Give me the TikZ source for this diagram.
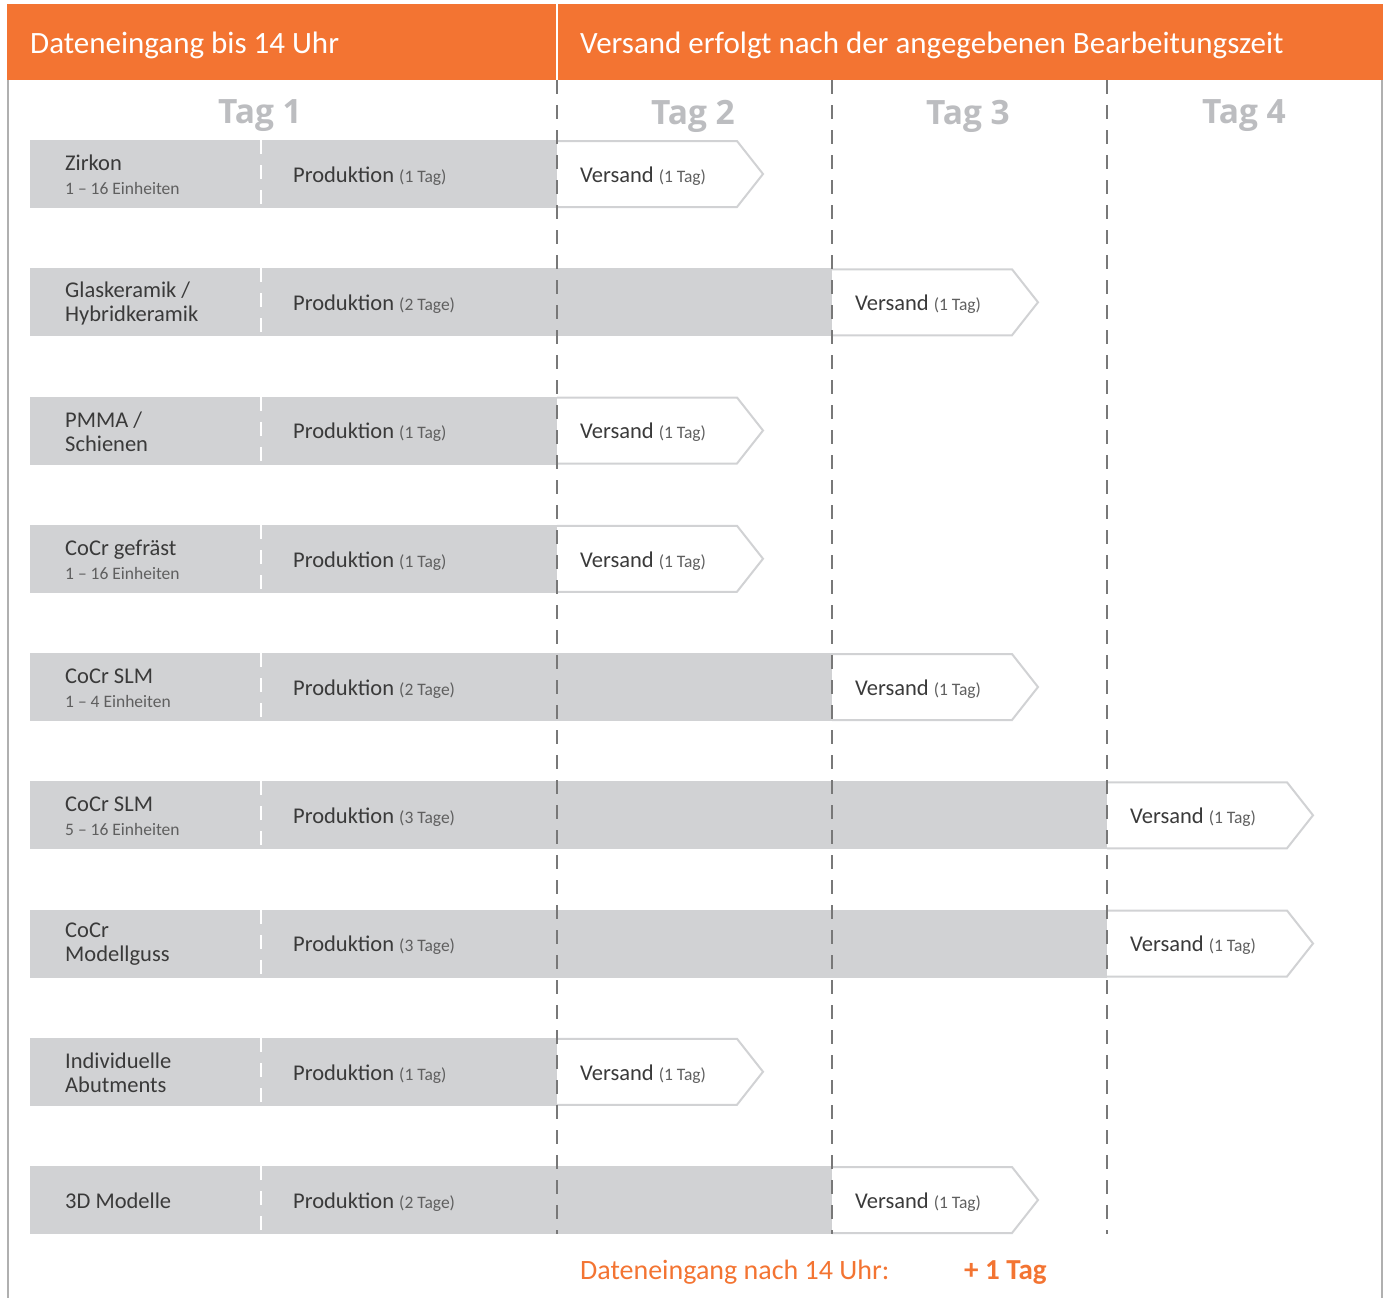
\documentclass[tikz,border=0pt]{standalone}
\usepackage{fontspec}
\setmainfont{Carlito}
\newfontfamily\tagfont{Open Sans}
\usetikzlibrary{positioning}

\definecolor{headorange}{RGB}{243,116,50}
\definecolor{bargray}{RGB}{209,210,212}
\definecolor{daygray}{RGB}{188,189,192}
\definecolor{txtgray}{RGB}{58,58,58}
\definecolor{subgray}{RGB}{95,95,95}
\definecolor{rulegray}{RGB}{120,120,120}
\definecolor{framegray}{RGB}{176,176,176}

\newcommand{\smallpart}[1]{{\fontsize{17.5}{19}\selectfont\color{subgray}#1}}

\tikzset{
  headtext/.style={anchor=west, inner sep=0pt, text=white, font=\fontsize{31}{33}\selectfont},
  daylabel/.style={inner sep=0pt, text=daygray, font=\tagfont\bfseries\fontsize{33.5}{34}\selectfont},
  itemtext/.style={anchor=west, inner sep=0pt, align=left, text=txtgray, font=\fontsize{22.5}{24}\selectfont},
  latetext/.style={anchor=base west, inner sep=0pt, text=headorange, font=\fontsize{28}{28}\selectfont},
  shiparrow/.style={draw=bargray, line width=2pt, fill=white},
  dayrule/.style={draw=rulegray, line width=2.5pt, dash pattern=on 14pt off 11pt},
  barrule/.style={draw=white, line width=2pt, dash pattern=on 14pt off 11pt},
}

\begin{document}
\begin{tikzpicture}[x=1pt,y=1pt,yscale=-1]
\useasboundingbox (0,0) rectangle (1384,1298);

% Header
\fill [headorange] (7,4) rectangle (1383,80);
\draw [white, line width=2pt] (557,4) -- (557,80);
\node [headtext] (headin) at (30,45) {Dateneingang bis 14 Uhr};
\node [headtext] (headout) at (580,45) {Versand erfolgt nach der angegebenen Bearbeitungszeit};

% Frame
\draw [framegray, line width=2pt] (8,80) -- (8,1298);
\draw [framegray, line width=2pt] (1382,80) -- (1382,1298);

% Day labels
\foreach \d/\x in {1/260,2/693,3/968,4/1244}
  \node [daylabel] (tag\d) at (\x,116) {Tag \d};

% Rows
\foreach \i/\name/\days/\xend in {
    1/{Zirkon\\\smallpart{1 -- 16 Einheiten}}/{1 Tag}/557,
    2/{Glaskeramik /\\Hybridkeramik}/{2 Tage}/832,
    3/{PMMA /\\Schienen}/{1 Tag}/557,
    4/{CoCr gefräst\\\smallpart{1 -- 16 Einheiten}}/{1 Tag}/557,
    5/{CoCr SLM\\\smallpart{1 -- 4 Einheiten}}/{2 Tage}/832,
    6/{CoCr SLM\\\smallpart{5 -- 16 Einheiten}}/{3 Tage}/1107,
    7/{CoCr\\Modellguss}/{3 Tage}/1107,
    8/{Individuelle\\Abutments}/{1 Tag}/557,
    9/{3D Modelle}/{2 Tage}/832}{
  \pgfmathsetmacro{\yc}{174+128.25*(\i-1)}
  \fill [bargray] (30,\yc-34) rectangle (\xend,\yc+34);
  \draw [barrule] (261,\yc-34) -- (261,\yc+34);
  \node [itemtext] (lab\i) at (65,\yc+1) {\name};
  \node [itemtext] (prod\i) at (293,\yc+2) {Produktion \smallpart{(\days)}};
  \draw [shiparrow] (\xend,\yc-33) -- (\xend+180,\yc-33) -- (\xend+206,\yc)
        -- (\xend+180,\yc+33) -- (\xend,\yc+33);
  \node [itemtext] (ship\i) at (\xend+23,\yc+2) {Versand \smallpart{(1 Tag)}};
}

% Day rules
\foreach \x in {557,832,1107}
  \draw [dayrule] (\x,80) -- (\x,1234);

% Footer
\node [latetext] (late) at (580,1279) {Dateneingang nach 14 Uhr:};
\node [latetext, font=\bfseries\fontsize{29}{29}\selectfont] (plusday) at (964,1279) {+ 1 Tag};

\end{tikzpicture}
\end{document}
